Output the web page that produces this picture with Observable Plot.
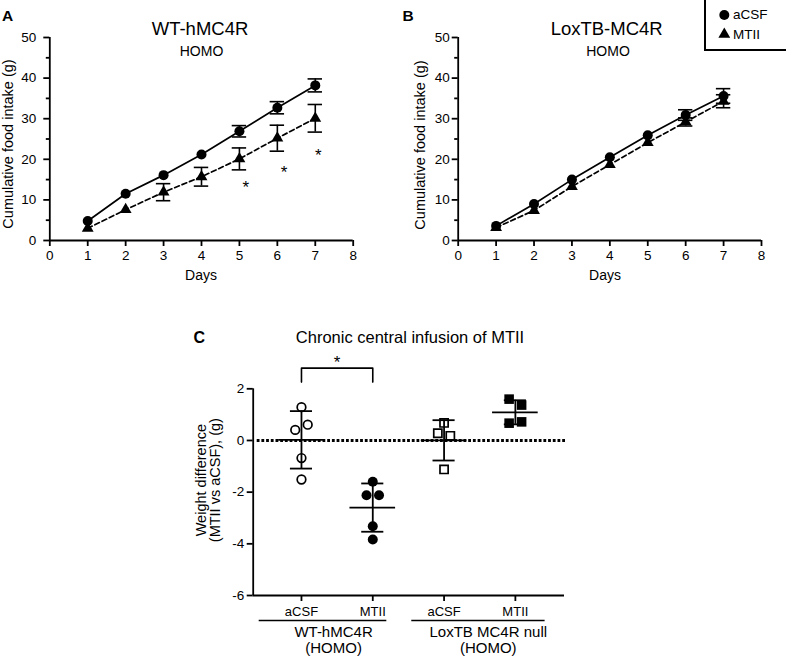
<!DOCTYPE html>
<html><head><meta charset="utf-8">
<script src="https://cdn.jsdelivr.net/npm/d3@7"></script>
<script src="https://cdn.jsdelivr.net/npm/@observablehq/plot@0.6"></script>
<style>
body{margin:0;background:#fff;font-family:"Liberation Sans",Arial,Helvetica,sans-serif;}
#root{position:relative;width:786px;height:657px;overflow:hidden;background:#fff;}
.pnl{position:absolute;}
</style></head><body><div id="root"></div>
<script>
const FONT = '"Liberation Sans", Arial, Helvetica, sans-serif';

// ---------- data: panels A and B (cumulative food intake, g) ----------
const days = [1, 2, 3, 4, 5, 6, 7];
const xTicksAB = [0, 1, 2, 3, 4, 5, 6, 7, 8];
const yTicksAB = [0, 10, 20, 30, 40, 50];
const yMinorAB = [5, 15, 25, 35, 45];

const aAcsfMean = [4.8, 11.5, 16.1, 21.2, 26.9, 32.7, 38.2];
const aAcsfSem  = [0.4, 0.4, 0.4, 0.4, 1.4, 1.5, 1.6];
const aMtiiMean = [3.0, 7.6, 11.9, 15.7, 20.1, 25.2, 30.1];
const aMtiiSem  = [0.3, 0.4, 2.1, 2.3, 2.7, 3.2, 3.4];
const aStarDays = [5.17, 6.18, 7.08];
const aStarY    = [14.1, 17.8, 22.0];

const bAcsfMean = [3.6, 9.0, 15.0, 20.5, 25.9, 30.9, 35.6];
const bAcsfSem  = [0.3, 0.4, 0.4, 0.4, 0.4, 1.3, 1.8];
const bMtiiMean = [3.2, 7.4, 13.3, 18.7, 24.1, 29.2, 34.3];
const bMtiiSem  = [0.3, 0.3, 0.4, 0.4, 0.4, 1.0, 1.6];

// ---------- data: panel C (weight difference, g) ----------
const cCategories = ["aCSF", "MTII", "aCSF", "MTII"];
const cGenotypes  = ["WT-hMC4R\n(HOMO)", "LoxTB MC4R null\n(HOMO)"];
const cYTicks = [-6, -4, -2, 0, 2];
const cWtAcsf  = [1.29, 0.41, 0.61, -0.68, -1.51];
const cWtMtii  = [-1.60, -2.12, -2.12, -3.32, -3.83];
const cLoxAcsf = [0.68, 0.28, 0.18, -1.12];
const cLoxMtii = [1.60, 1.37, 0.67, 0.72];

const AX_W = 1.8;
const TICK_FS = 13.5;
const root = document.getElementById("root");
function place(node, left, top) {
  const d = document.createElement("div");
  d.className = "pnl"; d.style.left = left + "px"; d.style.top = top + "px";
  d.appendChild(node); root.appendChild(d);
}

function rows(mean, sem) { return days.map((d, i) => ({day: d, mean: mean[i], sem: sem[i]})); }

function growthPanel({acM, acS, mtM, mtS, marginLeft, marginRight, padY, stars}) {
  const ac = rows(acM, acS), mt = rows(mtM, mtS);
  const bars = [...ac, ...mt].filter(d => d.sem > 0.5);
  const cap = 0.19;
  const marks = [
    Plot.axisX({ticks: xTicksAB, tickSize: 6, strokeWidth: AX_W, tickFormat: () => "", label: null}),
    Plot.axisY({ticks: yTicksAB, tickSize: 6, strokeWidth: AX_W, tickFormat: () => "", label: null}),
    Plot.axisY({ticks: yMinorAB, tickSize: 3.5, strokeWidth: AX_W, tickFormat: () => "", label: null}),
    Plot.text(xTicksAB, {x: d => d, text: d => String(d), frameAnchor: "bottom", lineAnchor: "top",
      dy: 9.5, fontSize: TICK_FS}),
    Plot.text(yTicksAB, {y: d => d, text: d => String(d), frameAnchor: "left", textAnchor: "end",
      dx: -(6 + padY), fontSize: TICK_FS}),
    Plot.ruleX([0], {strokeWidth: AX_W}),
    Plot.ruleY([0], {strokeWidth: AX_W}),
    Plot.ruleX(bars, {x: "day", y1: d => d.mean - d.sem, y2: d => d.mean + d.sem, strokeWidth: 1.6}),
    Plot.ruleY(bars, {y: d => d.mean + d.sem, x1: d => d.day - cap, x2: d => d.day + cap, strokeWidth: 1.6}),
    Plot.ruleY(bars, {y: d => d.mean - d.sem, x1: d => d.day - cap, x2: d => d.day + cap, strokeWidth: 1.6}),
    Plot.line(mt, {x: "day", y: "mean", strokeWidth: 1.7, strokeDasharray: "5,3"}),
    Plot.line(ac, {x: "day", y: "mean", strokeWidth: 1.7}),
    Plot.dot(mt, {x: "day", y: "mean", symbol: "triangle", r: 4.4, fill: "#000"}),
    Plot.dot(ac, {x: "day", y: "mean", r: 5, fill: "#000"})
  ];
  if (stars) marks.push(Plot.text(stars, {x: "day", y: "y", text: () => "*", fontSize: 17, dy: 4}));
  return Plot.plot({
    width: 393, height: 290, marginTop: 37, marginBottom: 50, marginLeft, marginRight,
    style: {fontFamily: FONT, color: "#000", background: "none", overflow: "visible"},
    x: {domain: [0, 8]}, y: {domain: [0, 50]},
    marks
  });
}

place(growthPanel({acM: aAcsfMean, acS: aAcsfSem, mtM: aMtiiMean, mtS: aMtiiSem,
  marginLeft: 49.3, marginRight: 40.3, padY: 7.5,
  stars: aStarDays.map((d, i) => ({day: d, y: aStarY[i]}))}), 0, 0);
place(growthPanel({acM: bAcsfMean, acS: bAcsfSem, mtM: bMtiiMean, mtS: bMtiiSem,
  marginLeft: 64.7, marginRight: 25, padY: 2.5}), 393, 0);

// ---------- panel C ----------
const groups = [cWtAcsf, cWtMtii, cLoxAcsf, cLoxMtii];
const xDom = [0.323, 4.689];
const cW = 786, cML = 252.7, cMR = 222;
const pxX = (cW - cML - cMR) / (xDom[1] - xDom[0]);
const pairGap = 12.5 / pxX;
const cPts = [];
const cStats = [];
groups.forEach((vals, gi) => {
  const g = gi + 1;
  const idx = vals.map((v, i) => i).sort((a, b) => vals[b] - vals[a]);
  const clusters = [];
  idx.forEach(i => {
    const last = clusters[clusters.length - 1];
    if (last && vals[last[last.length - 1]] - vals[i] < 0.37) last.push(i); else clusters.push([i]);
  });
  clusters.forEach(cl => {
    cl.sort((a, b) => a - b);
    cl.forEach((i, k) => cPts.push({g, x: g + (k - (cl.length - 1) / 2) * pairGap, v: vals[i],
      filled: gi % 2 === 1, square: gi >= 2}));
  });
  cStats.push({g, mean: d3.mean(vals), sd: d3.deviation(vals)});
});
const genoRows = [
  {label: cGenotypes[0], x1: 0.40, x2: 2.19, lx: 1.45},
  {label: cGenotypes[1], x1: 2.54, x2: 4.41, lx: 3.62}
];
const bracket = [{x: 1, y: 2.26}, {x: 1, y: 2.8}, {x: 2, y: 2.8}, {x: 2, y: 2.26}];
const meanHalf = 0.32, capHalf = 0.155;
const catRows = cCategories.map((c, i) => ({g: i + 1, c}));

const cPlot = Plot.plot({
  width: cW, height: 367, marginTop: 98.3, marginBottom: 62, marginLeft: cML, marginRight: cMR,
  style: {fontFamily: FONT, color: "#000", background: "none", overflow: "visible"},
  x: {domain: xDom}, y: {domain: [-6, 2]},
  marks: [
    Plot.axisY({ticks: cYTicks, tickSize: 6, strokeWidth: AX_W, tickFormat: () => "", label: null}),
    Plot.axisX({ticks: [1, 2, 3, 4], tickSize: 6, strokeWidth: AX_W, tickFormat: () => "", label: null}),
    Plot.text(cYTicks, {y: d => d, text: d => String(d), frameAnchor: "left", textAnchor: "end",
      dx: -9, fontSize: 13.5}),
    Plot.text(catRows, {x: "g", text: "c", frameAnchor: "bottom", lineAnchor: "top", dy: 11.5, fontSize: 13}),
    Plot.ruleX([xDom[0]], {strokeWidth: AX_W}),
    Plot.ruleY([-6], {strokeWidth: AX_W}),
    Plot.ruleY([0], {x1: xDom[0] + 4 / pxX, x2: xDom[1] + 1 / pxX, strokeWidth: 2.8, strokeDasharray: "2.8,1.9"}),
    Plot.ruleX(cStats, {x: "g", y1: d => d.mean - d.sd, y2: d => d.mean + d.sd, strokeWidth: 1.8}),
    Plot.ruleY(cStats, {y: "mean", x1: d => d.g - meanHalf, x2: d => d.g + meanHalf, strokeWidth: 1.8}),
    Plot.ruleY(cStats, {y: d => d.mean + d.sd, x1: d => d.g - capHalf, x2: d => d.g + capHalf, strokeWidth: 1.8}),
    Plot.ruleY(cStats, {y: d => d.mean - d.sd, x1: d => d.g - capHalf, x2: d => d.g + capHalf, strokeWidth: 1.8}),
    Plot.dot(cPts.filter(d => !d.square && !d.filled), {x: "x", y: "v", r: 4.3, fill: "none", stroke: "#000", strokeWidth: 1.7}),
    Plot.dot(cPts.filter(d => !d.square && d.filled), {x: "x", y: "v", r: 5, fill: "#000"}),
    Plot.dot(cPts.filter(d => d.square && !d.filled), {x: "x", y: "v", symbol: "square", r: 4.6, fill: "none", stroke: "#000", strokeWidth: 1.7}),
    Plot.dot(cPts.filter(d => d.square && d.filled), {x: "x", y: "v", symbol: "square", r: 5.4, fill: "#000"}),
    Plot.line(bracket, {x: "x", y: "y", strokeWidth: 1.6}),
    Plot.text([{x: 1.5, y: 3.1}], {x: "x", y: "y", text: () => "*", fontSize: 17, dy: 2}),
    Plot.link(genoRows, {x1: "x1", x2: "x2", y1: () => -6, y2: () => -6, dy: 25, strokeWidth: 1.6}),
    Plot.text(genoRows, {x: "lx", y: () => -6, text: "label", lineAnchor: "top", dy: 30, fontSize: 15, lineHeight: 1.07}),
    Plot.text(["Weight difference\n(MTII vs aCSF), (g)"], {frameAnchor: "left", text: d => d, rotate: -90,
      textAnchor: "middle", lineAnchor: "middle", dx: -44.4, dy: -12, fontSize: 14.5, lineHeight: 0.93})
  ]
});
place(cPlot, 0, 290);

// ---------- titles, panel letters, axis labels, legend ----------
const ov = d3.select(root).append("svg")
  .attr("width", 786).attr("height", 657)
  .style("position", "absolute").style("left", 0).style("top", 0)
  .style("font-family", FONT).style("pointer-events", "none");
function txt(x, y, s, size, opts = {}) {
  const t = ov.append("text").attr("x", x).attr("y", y).text(s)
    .attr("font-size", size).attr("text-anchor", opts.anchor || "middle")
    .attr("font-weight", opts.bold ? "bold" : "normal").attr("fill", "#000");
  if (opts.rotate) t.attr("transform", `rotate(${opts.rotate},${x},${y})`);
  return t;
}
txt(2, 20.5, "A", 15.5, {anchor: "start", bold: true});
txt(200, 35, "WT-hMC4R", 18.5);
txt(201.5, 56, "HOMO", 14);
txt(201, 280, "Days", 14);
txt(13, 144, "Cumulative food intake (g)", 14.5, {rotate: -90});

txt(402.5, 20.5, "B", 15.5, {anchor: "start", bold: true});
txt(606.7, 35, "LoxTB-MC4R", 18.5);
txt(608, 56, "HOMO", 14);
txt(605, 280, "Days", 14);
txt(424.5, 145, "Cumulative food intake (g)", 14.5, {rotate: -90});

txt(193.5, 343.3, "C", 16, {anchor: "start", bold: true});
txt(410, 343.3, "Chronic central infusion of MTII", 16.5);

// legend
ov.append("rect").attr("x", 705).attr("y", -1).attr("width", 84).attr("height", 51)
  .attr("fill", "none").attr("stroke", "#000").attr("stroke-width", 2);
ov.append("circle").attr("cx", 724.3).attr("cy", 15).attr("r", 5).attr("fill", "#000");
ov.append("path").attr("d", d3.symbol(d3.symbolTriangle, Math.PI * 4.4 * 4.4)())
  .attr("transform", "translate(724.3,34.3)").attr("fill", "#000");
txt(733, 19.4, "aCSF", 13.5, {anchor: "start"});
txt(733, 38.7, "MTII", 13.5, {anchor: "start"});
</script></body></html>
